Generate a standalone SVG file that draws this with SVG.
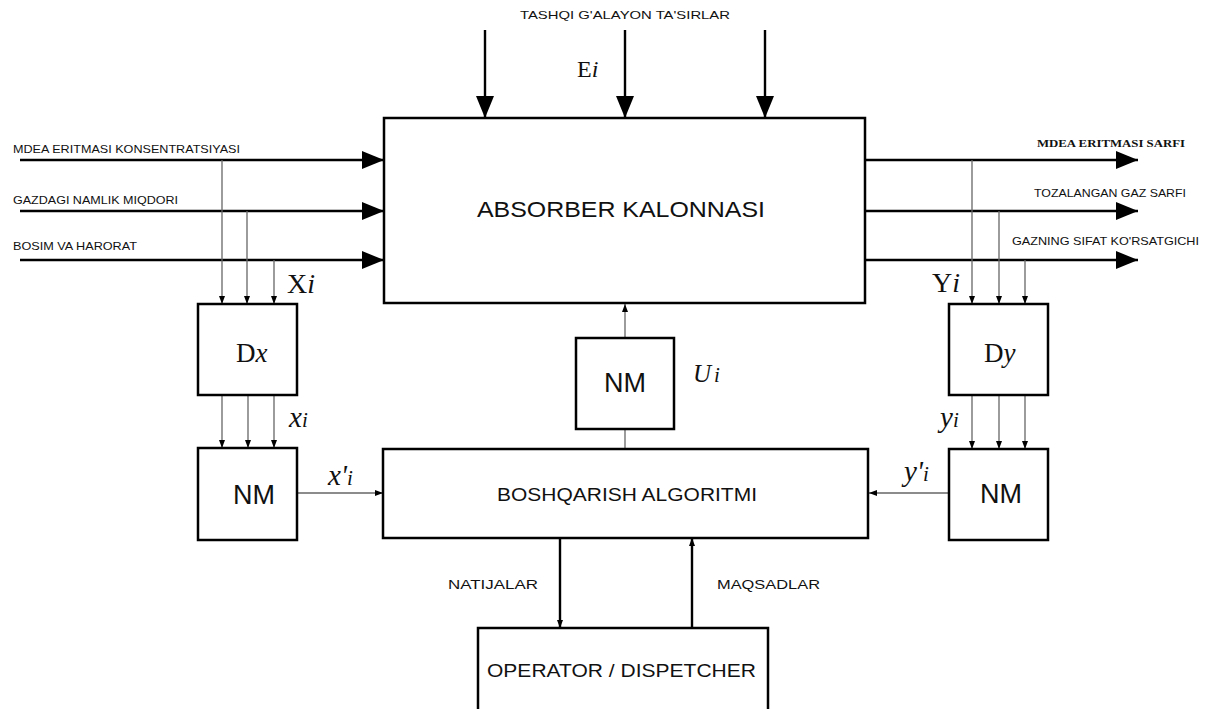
<svg xmlns="http://www.w3.org/2000/svg" width="1212" height="709" viewBox="0 0 1212 709">
<defs>
<style>
.box{fill:#fff;stroke:#000;stroke-width:2.5}
.main{stroke:#000;stroke-width:2.4;fill:none}
.tap{stroke:#666;stroke-width:1.3;fill:none}
.sans{font-family:"Liberation Sans",Arial,sans-serif;fill:#111}
.serif{font-family:"Liberation Serif","Times New Roman",serif;fill:#111}
.it{font-style:italic}
</style>
<marker id="big" markerUnits="userSpaceOnUse" markerWidth="22" markerHeight="18" refX="22" refY="9" orient="auto">
<path d="M0,0 L22,9 L0,18 z" fill="#000"/>
</marker>
<marker id="small" markerUnits="userSpaceOnUse" markerWidth="8" markerHeight="6" refX="8" refY="3" orient="auto">
<path d="M0,0 L8,3 L0,6 z" fill="#000"/>
</marker>
</defs>
<rect width="1212" height="709" fill="#fff"/>

<g id="connectors">
<line class="main" x1="485" y1="30" x2="485" y2="118" marker-end="url(#big)"/>
<line class="main" x1="625" y1="30" x2="625" y2="118" marker-end="url(#big)"/>
<line class="main" x1="765" y1="30" x2="765" y2="118" marker-end="url(#big)"/>
<line class="main" x1="20" y1="160" x2="384" y2="160" marker-end="url(#big)"/>
<line class="main" x1="20" y1="211" x2="384" y2="211" marker-end="url(#big)"/>
<line class="main" x1="20" y1="260" x2="384" y2="260" marker-end="url(#big)"/>
<line class="main" x1="865" y1="160" x2="1138" y2="160" marker-end="url(#big)"/>
<line class="main" x1="865" y1="211" x2="1138" y2="211" marker-end="url(#big)"/>
<line class="main" x1="865" y1="260" x2="1138" y2="260" marker-end="url(#big)"/>
<line class="tap" x1="222" y1="160" x2="222" y2="304" marker-end="url(#small)"/>
<line class="tap" x1="247" y1="211" x2="247" y2="304" marker-end="url(#small)"/>
<line class="tap" x1="274" y1="260" x2="274" y2="304" marker-end="url(#small)"/>
<line class="tap" x1="222" y1="396" x2="222" y2="448" marker-end="url(#small)"/>
<line class="tap" x1="248" y1="396" x2="248" y2="448" marker-end="url(#small)"/>
<line class="tap" x1="274" y1="396" x2="274" y2="448" marker-end="url(#small)"/>
<line class="tap" x1="972" y1="160" x2="972" y2="304" marker-end="url(#small)"/>
<line class="tap" x1="999" y1="211" x2="999" y2="304" marker-end="url(#small)"/>
<line class="tap" x1="1025" y1="260" x2="1025" y2="304" marker-end="url(#small)" stroke="#222"/>
<line class="tap" x1="972" y1="396" x2="972" y2="449" marker-end="url(#small)"/>
<line class="tap" x1="999" y1="396" x2="999" y2="449" marker-end="url(#small)"/>
<line class="tap" x1="1025" y1="396" x2="1025" y2="449" marker-end="url(#small)" stroke="#222"/>
<line class="tap" x1="298" y1="493" x2="383" y2="493" marker-end="url(#small)"/>
<line class="tap" x1="948" y1="493" x2="869" y2="493" marker-end="url(#small)"/>
<line class="tap" x1="625" y1="449" x2="625" y2="429"/>
<line class="tap" x1="625" y1="338" x2="625" y2="304" marker-end="url(#small)"/>
<line class="main" x1="560" y1="538" x2="560" y2="628" marker-end="url(#small)"/>
<line class="main" x1="692" y1="628" x2="692" y2="538" marker-end="url(#small)"/>
</g>

<g id="absorber">
<rect class="box" x="384" y="118" width="481" height="185"/>
<text class="sans" x="477" y="217" font-size="21.5" textLength="288" lengthAdjust="spacingAndGlyphs">ABSORBER KALONNASI</text>
</g>

<g id="dx">
<rect class="box" x="198" y="304" width="99" height="91"/>
<text class="serif" x="236" y="362" font-size="27">D<tspan class="it">x</tspan></text>
</g>

<g id="nm-left">
<rect class="box" x="198" y="448" width="99" height="92"/>
<text class="sans" x="254" y="504" font-size="27" text-anchor="middle">NM</text>
</g>

<g id="nm-center">
<rect class="box" x="576" y="338" width="98" height="91"/>
<text class="sans" x="625" y="392" font-size="27" text-anchor="middle">NM</text>
</g>

<g id="dy">
<rect class="box" x="949" y="304" width="99" height="91"/>
<text class="serif" x="984" y="362" font-size="27">D<tspan class="it">y</tspan></text>
</g>

<g id="nm-right">
<rect class="box" x="949" y="449" width="99" height="91"/>
<text class="sans" x="1001" y="503" font-size="27" text-anchor="middle">NM</text>
</g>

<g id="algorithm">
<rect class="box" x="383" y="449" width="485" height="89"/>
<text class="sans" x="497" y="501" font-size="18.5" textLength="260" lengthAdjust="spacingAndGlyphs">BOSHQARISH ALGORITMI</text>
</g>

<g id="operator">
<rect class="box" x="478" y="628" width="290" height="90"/>
<text class="sans" x="487" y="677" font-size="18.5" textLength="269" lengthAdjust="spacingAndGlyphs">OPERATOR / DISPETCHER</text>
</g>

<g id="labels">
<text class="sans" x="520" y="19" font-size="11.5" textLength="210" lengthAdjust="spacingAndGlyphs">TASHQI G'ALAYON TA'SIRLAR</text>
<text class="serif" x="577" y="77" font-size="24">E<tspan class="it">i</tspan></text>
<text class="sans" x="13" y="153" font-size="11.5" textLength="227" lengthAdjust="spacingAndGlyphs">MDEA ERITMASI KONSENTRATSIYASI</text>
<text class="sans" x="13" y="204" font-size="11.5" textLength="165" lengthAdjust="spacingAndGlyphs">GAZDAGI NAMLIK MIQDORI</text>
<text class="sans" x="13" y="250" font-size="11.5" textLength="124" lengthAdjust="spacingAndGlyphs">BOSIM VA HARORAT</text>
<text class="serif" x="1037" y="147" font-size="11" font-weight="bold" textLength="148" lengthAdjust="spacingAndGlyphs">MDEA ERITMASI SARFI</text>
<text class="sans" x="1034" y="197" font-size="11.5" textLength="152" lengthAdjust="spacingAndGlyphs">TOZALANGAN GAZ SARFI</text>
<text class="sans" x="1012" y="245" font-size="11.5" textLength="187" lengthAdjust="spacingAndGlyphs">GAZNING SIFAT KO'RSATGICHI</text>
<text class="serif" x="287" y="293" font-size="28">X<tspan class="it">i</tspan></text>
<text class="serif" x="932" y="292" font-size="28">Y<tspan class="it">i</tspan></text>
<text class="serif it" x="289" y="427" font-size="29">x<tspan font-size="21">i</tspan></text>
<text class="serif it" x="940" y="427" font-size="29">y<tspan font-size="21">i</tspan></text>
<text class="serif it" x="328" y="485" font-size="29">x'<tspan font-size="21">i</tspan></text>
<text class="serif it" x="904" y="481" font-size="29">y'<tspan font-size="21">i</tspan></text>
<text class="serif it" x="693" y="382" font-size="25">U<tspan font-size="21" dx="3">i</tspan></text>
<text class="sans" x="448" y="589" font-size="13" textLength="90" lengthAdjust="spacingAndGlyphs">NATIJALAR</text>
<text class="sans" x="717" y="589" font-size="13" textLength="103" lengthAdjust="spacingAndGlyphs">MAQSADLAR</text>
</g>
</svg>
